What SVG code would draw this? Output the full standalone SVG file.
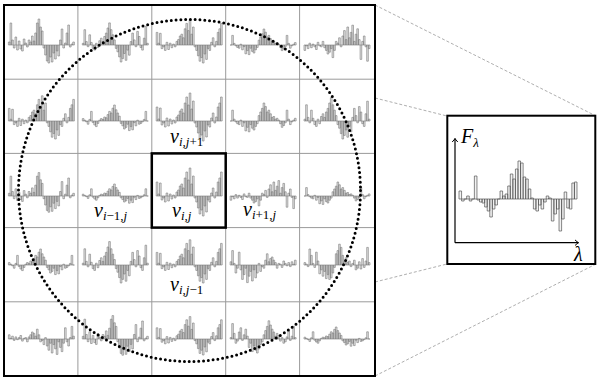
<svg xmlns="http://www.w3.org/2000/svg" xmlns:xlink="http://www.w3.org/1999/xlink" width="598" height="380" viewBox="0 0 598 380">
<style>
.sp{fill:#e0e0e0;stroke:#7a7a7a;stroke-width:0.6;vector-effect:non-scaling-stroke}
.spi{fill:#f2f2f2;stroke:#555;stroke-width:0.7;vector-effect:non-scaling-stroke}
.gl{stroke:#9a9a9a;stroke-width:1;fill:none}
.dash{stroke:#999;stroke-width:0.8;stroke-dasharray:3 2;fill:none}
.ax{fill:none;stroke:#000;stroke-width:1.2}
.v{font-family:"Liberation Serif",serif;font-style:italic;font-size:20px;fill:#000}
.s{font-size:13px}
.su{font-size:13px;font-style:normal}
</style>
<defs>
<path id="sA" class="sp" d="M0 0H40M0 0v-3h1v3 v-22h1v22 v-5h1v5 v3h1v-3 v-8h1v8 v5h1v-5 v-4h1v4 v4h1v-4 v6h1v-6 v-6h1v6 v-2h1v2 v2h1v-2 v-5h1v5 v-3h1v3 v-9h1v9 v-4h1v4 v-12h1v12 v-22h1v22 v-26h1v26 v-18h1v18 v-14h1v14 v3h1v-3 v10h1v-10 v16h1v-16 v18h1v-18 v12h1v-12 v17h1v-17 v8h1v-8 v14h1v-14 v6h1v-6 v11h1v-11 v-5h1v5 v-16h1v16 v3h1v-3 v-2h1v2 v-12h1v12 v-20h1v20 v2h1v-2 v-1h1v1 v-3h1v3"/>
<path id="sB" class="sp" d="M0 0H40M0 0v-2h1v2 v-18h1v18 v-4h1v4 v2h1v-2 v-12h1v12 v-3h1v3 v4h1v-4 v6h1v-6 v-2h1v2 v3h1v-3 v-5h1v5 v-8h1v8 v-4h1v4 v-10h1v10 v-14h1v14 v-20h1v20 v-26h1v26 v-18h1v18 v-12h1v12 v-6h1v6 v4h1v-4 v8h1v-8 v14h1v-14 v20h1v-20 v16h1v-16 v10h1v-10 v18h1v-18 v6h1v-6 v12h1v-12 v-4h1v4 v-14h1v14 v-6h1v6 v2h1v-2 v-16h1v16 v-10h1v10 v3h1v-3 v6h1v-6 v-8h1v8 v-22h1v22 v-2h1v2"/>
<path id="sC" class="sp" d="M0 0H40M0 0v-14h1v14 v-2h1v2 v-13h1v13 v4h1v-4 v2h1v-2 v6h1v-6 v-3h1v3 v5h1v-5 v-2h1v2 v3h1v-3 v-1h1v1 v2h1v-2 v-4h1v4 v-6h1v6 v-10h1v10 v-12h1v12 v-8h1v8 v-18h1v18 v-24h1v24 v-16h1v16 v-28h1v28 v-12h1v12 v-20h1v20 v2h1v-2 v6h1v-6 v12h1v-12 v18h1v-18 v14h1v-14 v20h1v-20 v10h1v-10 v16h1v-16 v4h1v-4 v6h1v-6 v-3h1v3 v-8h1v8 v2h1v-2 v-4h1v4 v-14h1v14 v-18h1v18 v-24h1v24"/>
<path id="sD" class="sp" d="M0 0H40M0 0v-3h1v3 v-1h1v1 v1h1v-1 v4h1v-4 v-2h1v2 v-12h1v12 v2h1v-2 v5h1v-5 v7h1v-7 v3h1v-3 v-1h1v1 v-3h1v3 v-2h1v2 v-5h1v5 v-4h1v4 v-8h1v8 v-12h1v12 v-10h1v10 v-16h1v16 v-20h1v20 v-14h1v14 v-10h1v10 v-6h1v6 v3h1v-3 v6h1v-6 v10h1v-10 v8h1v-8 v4h1v-4 v12h1v-12 v7h1v-7 v11h1v-11 v2h1v-2 v6h1v-6 v-1h1v1 v4h1v-4 v3h1v-3 v1h1v-1 v-2h1v2 v-12h1v12 h1"/>
<path id="sE" class="sp" d="M0 0H40M0 0v-6h1v6 v-1h1v1 v-4h1v4 v2h1v-2 v-3h1v3 v1h1v-1 v-2h1v2 v-5h1v5 v3h1v-3 v-1h1v1 v-2h1v2 v4h1v-4 v-3h1v3 v-6h1v6 v-10h1v10 v-8h1v8 v-4h1v4 v-14h1v14 v-6h1v6 v4h1v-4 v2h1v-2 v8h1v-8 v-2h1v2 v10h1v-10 v16h1v-16 v6h1v-6 v20h1v-20 v8h1v-8 v14h1v-14 v22h1v-22 v4h1v-4 v12h1v-12 v18h1v-18 v6h1v-6 v-16h1v16 v4h1v-4 v10h1v-10 v-2h1v2 v-18h1v18 v-4h1v4"/>
<marker id="arr" markerWidth="10" markerHeight="10" refX="0" refY="0" viewBox="-5 -5 10 10" orient="auto" markerUnits="userSpaceOnUse">
<path d="M-3.5 -2.8 Q-1.2 -0.6 0 0 Q-1.2 0.6 -3.5 2.8" fill="none" stroke="#000" stroke-width="1"/>
</marker>
</defs>

<g id="connectors">
<line class="dash" x1="375" y1="5" x2="596" y2="116"/>
<line class="dash" x1="375" y1="98" x2="447" y2="116"/>
<line class="dash" x1="375" y1="282" x2="447" y2="264"/>
<line class="dash" x1="375" y1="376" x2="596" y2="264"/>
</g>

<g id="cells">
<g id="r0">
<use xlink:href="#sA" transform="translate(8.4,45) scale(1.65,1)"/>
<use xlink:href="#sB" transform="translate(82.3,45) scale(1.65,0.85)"/>
<use xlink:href="#sC" transform="translate(156.2,45) scale(1.65,0.9)"/>
<use xlink:href="#sD" transform="translate(296.1,45) scale(-1.65,0.8)"/>
<use xlink:href="#sE" transform="translate(304,45) scale(1.65,-0.9)"/>
</g>
<g id="r1">
<use xlink:href="#sC" transform="translate(8.4,121) scale(1.65,0.9)"/>
<use xlink:href="#sD" transform="translate(82.3,121) scale(1.65,0.8)"/>
<use xlink:href="#sC" transform="translate(156.2,121) scale(1.65,1)"/>
<use xlink:href="#sD" transform="translate(296.1,121) scale(-1.65,0.9)"/>
<use xlink:href="#sB" transform="translate(304,121) scale(1.65,0.9)"/>
</g>
<g id="r2">
<use xlink:href="#sA" transform="translate(8.4,196) scale(1.65,0.9)"/>
<use xlink:href="#sD" transform="translate(82.3,196) scale(1.65,0.6)"/>
<use xlink:href="#sC" transform="translate(156.2,196) scale(1.65,1)"/>
<use xlink:href="#sE" transform="translate(230.1,196) scale(1.65,-0.7)"/>
<use xlink:href="#sD" transform="translate(370,196) scale(-1.65,0.7)"/>
</g>
<g id="r3">
<use xlink:href="#sD" transform="translate(8.4,265) scale(1.65,0.8)"/>
<use xlink:href="#sB" transform="translate(82.3,265) scale(1.65,0.9)"/>
<use xlink:href="#sC" transform="translate(156.2,265) scale(1.65,0.9)"/>
<use xlink:href="#sE" transform="translate(296.1,265) scale(-1.65,0.8)"/>
<use xlink:href="#sA" transform="translate(370,265) scale(-1.65,0.8)"/>
</g>
<g id="r4">
<use xlink:href="#sE" transform="translate(8.4,339) scale(1.65,0.7)"/>
<use xlink:href="#sA" transform="translate(82.3,339) scale(1.65,0.9)"/>
<use xlink:href="#sC" transform="translate(156.2,339) scale(1.65,0.8)"/>
<use xlink:href="#sB" transform="translate(296.1,339) scale(-1.65,0.7)"/>
<use xlink:href="#sD" transform="translate(304,339) scale(1.65,0.6)"/>
</g>
</g>

<g id="grid">
<path class="gl" d="M77.9 5V376M151.8 5V376M225.7 5V376M299.6 5V376M4 79.2H375M4 153.4H375M4 227.6H375M4 301.8H375"/>
</g>

<g id="circle">
<circle cx="189.5" cy="190.5" r="171" fill="none" stroke="#000" stroke-width="3" stroke-linecap="round" stroke-dasharray="0 4.8"/>
</g>

<g id="labels">
<text class="v" x="170" y="143">v<tspan class="s" dy="3">i,j</tspan><tspan class="su">+1</tspan></text>
<text class="v" x="94" y="217">v<tspan class="s" dy="3">i</tspan><tspan class="su">−1,</tspan><tspan class="s">j</tspan></text>
<text class="v" x="172" y="217">v<tspan class="s" dy="3">i,j</tspan></text>
<text class="v" x="243" y="216">v<tspan class="s" dy="3">i</tspan><tspan class="su">+1,</tspan><tspan class="s">j</tspan></text>
<text class="v" x="170" y="291">v<tspan class="s" dy="3">i,j</tspan><tspan class="su">−1</tspan></text>
</g>

<g id="border">
<rect x="4" y="5" width="371" height="371" fill="none" stroke="#000" stroke-width="2"/>
<rect x="151.8" y="153.4" width="73.9" height="74.2" fill="none" stroke="#000" stroke-width="2.5"/>
</g>

<g id="inset">
<rect x="447.3" y="115.7" width="148" height="148.3" fill="#fff" stroke="#000" stroke-width="2"/>
<path class="spi" transform="translate(459,199) scale(2.565,1)" d="M0 0H46M0 0v-8h1v8 v2h1v-2 h1 v-3h1v3 v2h1v-2 h1 v-23h1v23 v1h1v-1 v3h1v-3 v4h1v-4 v8h1v-8 v12h1v-12 v18h1v-18 v10h1v-10 v6h1v-6 h1 v-8h1v8 v-3h1v3 v-5h1v5 v-13h1v13 v-25h1v25 v-20h1v20 v-30h1v30 v-38h1v38 v-36h1v36 v-22h1v22 v-20h1v20 v-10h1v10 v-1h1v1 v10h1v-10 v12h1v-12 v6h1v-6 v10h1v-10 v3h1v-3 v-3h1v3 v-1h1v1 v22h1v-22 v15h1v-15 v10h1v-10 v32h1v-32 v20h1v-20 v-7h1v7 v9h1v-9 v10h1v-10 v-16h1v16 v-17h1v17"/>
<path class="ax" d="M455 242.7H578.5" marker-end="url(#arr)"/>
<path class="ax" d="M455 242.7V138.5" marker-end="url(#arr)"/>
<text class="v" x="461" y="143">F<tspan class="s" dy="4">λ</tspan></text>
<text class="v" x="574" y="261">λ</text>
</g>
</svg>
